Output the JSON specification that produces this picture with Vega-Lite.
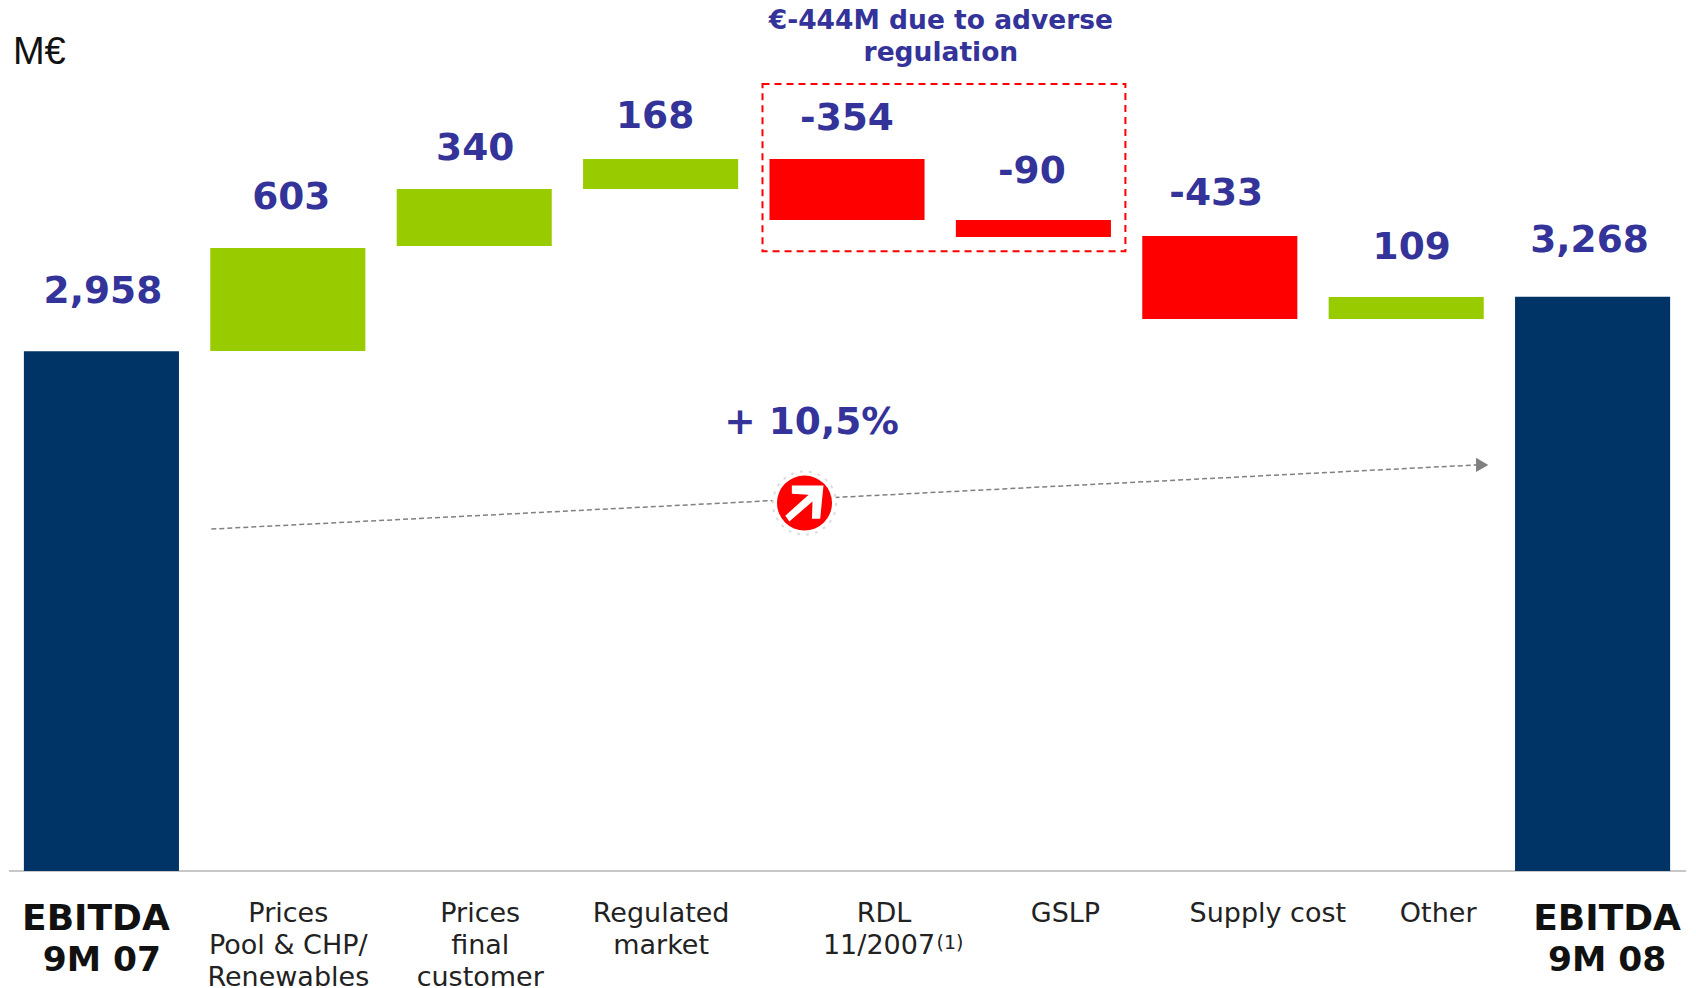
{
"$schema":"https://vega.github.io/schema/vega-lite/v6.json",
"autosize":{"type":"none"},
"width":1696,"height":988,"padding":0,
"background":"white",
"config":{"view":{"stroke":null}},
"datasets":{
"bars":[
{"category":"EBITDA 9M 07","type":"total","start":0,"end":2958,"label":"2,958"},
{"category":"Prices Pool","type":"increase","start":2960,"end":3546,"label":"603"},
{"category":"Prices final","type":"increase","start":3557,"end":3882,"label":"340"},
{"category":"Regulated","type":"increase","start":3882,"end":4052,"label":"168"},
{"category":"RDL","type":"decrease","start":4052,"end":3705,"label":"-354"},
{"category":"GSLP","type":"decrease","start":3705,"end":3608,"label":"-90"},
{"category":"Supply cost","type":"decrease","start":3614,"end":3142,"label":"-433"},
{"category":"Other","type":"increase","start":3142,"end":3267,"label":"109"},
{"category":"EBITDA 9M 08","type":"total","start":0,"end":3268,"label":"3,268"}
]},
"encoding":{"x":{"field":"category","type":"nominal","axis":null,"sort":null,
"scale":{"type":"band","domain":["EBITDA 9M 07","Prices Pool","Prices final","Regulated","RDL","GSLP","Supply cost","Other","EBITDA 9M 08"],"paddingInner":0.168,"paddingOuter":0.1335,"align":0.48}}},
"layer":[
{"data":{"values":[{"category":"EBITDA 9M 07","category2":"EBITDA 9M 08","level":0}]},
"mark":{"type":"rule","stroke":"#c8c8c8","strokeWidth":2,"xOffset":-92.5,"x2Offset":93.5},
"encoding":{"x2":{"field":"category2"},"y":{"field":"level","type":"quantitative","axis":null,"scale":{"domain":[-666,4957],"nice":false,"zero":false}}}},
{"data":{"name":"bars"},"mark":{"type":"bar"},
"encoding":{"y":{"field":"start","type":"quantitative"},"y2":{"field":"end"},
"color":{"field":"type","type":"nominal","legend":null,"scale":{"domain":["total","increase","decrease"],"range":["#003366","#99CC00","#FF0000"]}}}},
{"data":{"values":[{"category":"RDL","category2":"GSLP","low":3527,"high":4479}]},
"mark":{"type":"rect","fill":null,"stroke":"#FF0000","strokeWidth":2,"strokeDash":[7,5],"xOffset":-84.5,"x2Offset":92},
"encoding":{"x2":{"field":"category2"},"y":{"field":"low","type":"quantitative"},"y2":{"field":"high"}}},
{"data":{"values":[{"category":"Prices Pool","category2":"Other","from":1946,"to":2311}]},
"mark":{"type":"rule","stroke":"#808080","strokeWidth":1.5,"strokeDash":[5,3],"xOffset":-76.5,"x2Offset":71},
"encoding":{"x2":{"field":"category2"},"y":{"field":"from","type":"quantitative"},"y2":{"field":"to"}}},
{"data":{"values":[{"category":"Other","at":2311}]},
"mark":{"type":"point","shape":"triangle-right","filled":true,"fill":"#808080","stroke":null,"opacity":1,"size":200,"xOffset":76},
"encoding":{"y":{"field":"at","type":"quantitative"}}},
{"data":{"values":[{"category":"RDL","at":2094}]},
"mark":{"type":"point","shape":"circle","filled":true,"fill":"#ffffff","stroke":"#dddddd","strokeWidth":2,"strokeDash":[3,6],"opacity":1,"size":4000,"xOffset":-42.5},
"encoding":{"y":{"field":"at","type":"quantitative"}}},
{"data":{"values":[{"category":"RDL","at":2094}]},
"mark":{"type":"point","shape":"circle","filled":true,"fill":"#FF0000","stroke":null,"opacity":1,"size":3025,"xOffset":-42.5},
"encoding":{"y":{"field":"at","type":"quantitative"}}},
{"data":{"values":[{"category":"RDL","at":2094}]},
"mark":{"type":"point","shape":"M0.69,-0.64L0.57,0.57L0.27,0.57L0.29,-0.06L-0.55,0.67L-0.7,0.46L0.15,-0.3L-0.46,-0.34L-0.46,-0.64Z","filled":true,"fill":"#ffffff","stroke":null,"opacity":1,"size":3025,"xOffset":-42.5},
"encoding":{"y":{"field":"at","type":"quantitative"}}},
{"data":{"name":"bars"},"transform":[{"filter":"datum.label=='2,958'"}],"mark":{"type":"text","font":"DejaVu Sans","fontWeight":"bold","fontSize":37.5,"fill":"#333399","baseline":"middle","align":"center","dx":1.5,"dy":-59.5},"encoding":{"y":{"field":"end","type":"quantitative"},"text":{"field":"label"}}},
{"data":{"name":"bars"},"transform":[{"filter":"datum.label=='603'"}],"mark":{"type":"text","font":"DejaVu Sans","fontWeight":"bold","fontSize":37.5,"fill":"#333399","baseline":"middle","align":"center","dx":3.5,"dy":-50},"encoding":{"y":{"field":"end","type":"quantitative"},"text":{"field":"label"}}},
{"data":{"name":"bars"},"transform":[{"filter":"datum.label=='340'"}],"mark":{"type":"text","font":"DejaVu Sans","fontWeight":"bold","fontSize":37.5,"fill":"#333399","baseline":"middle","align":"center","dx":1,"dy":-40},"encoding":{"y":{"field":"end","type":"quantitative"},"text":{"field":"label"}}},
{"data":{"name":"bars"},"transform":[{"filter":"datum.label=='168'"}],"mark":{"type":"text","font":"DejaVu Sans","fontWeight":"bold","fontSize":37.5,"fill":"#333399","baseline":"middle","align":"center","dx":-5.5,"dy":-42},"encoding":{"y":{"field":"end","type":"quantitative"},"text":{"field":"label"}}},
{"data":{"name":"bars"},"transform":[{"filter":"datum.label=='-354'"}],"mark":{"type":"text","font":"DejaVu Sans","fontWeight":"bold","fontSize":37.5,"fill":"#333399","baseline":"middle","align":"center","dx":0,"dy":-40},"encoding":{"y":{"field":"start","type":"quantitative"},"text":{"field":"label"}}},
{"data":{"name":"bars"},"transform":[{"filter":"datum.label=='-90'"}],"mark":{"type":"text","font":"DejaVu Sans","fontWeight":"bold","fontSize":37.5,"fill":"#333399","baseline":"middle","align":"center","dx":-1.5,"dy":-48},"encoding":{"y":{"field":"start","type":"quantitative"},"text":{"field":"label"}}},
{"data":{"name":"bars"},"transform":[{"filter":"datum.label=='-433'"}],"mark":{"type":"text","font":"DejaVu Sans","fontWeight":"bold","fontSize":37.5,"fill":"#333399","baseline":"middle","align":"center","dx":-3.5,"dy":-41.5},"encoding":{"y":{"field":"start","type":"quantitative"},"text":{"field":"label"}}},
{"data":{"name":"bars"},"transform":[{"filter":"datum.label=='109'"}],"mark":{"type":"text","font":"DejaVu Sans","fontWeight":"bold","fontSize":37.5,"fill":"#333399","baseline":"middle","align":"center","dx":5.5,"dy":-49},"encoding":{"y":{"field":"end","type":"quantitative"},"text":{"field":"label"}}},
{"data":{"name":"bars"},"transform":[{"filter":"datum.label=='3,268'"}],"mark":{"type":"text","font":"DejaVu Sans","fontWeight":"bold","fontSize":37.5,"fill":"#333399","baseline":"middle","align":"center","dx":-3,"dy":-56},"encoding":{"y":{"field":"end","type":"quantitative"},"text":{"field":"label"}}},
{"data":{"values":[{"category":"GSLP","at":4792,"text":["€-444M due to adverse","regulation"]}]},
"mark":{"type":"text","font":"DejaVu Sans","fontWeight":"bold","fontSize":26.5,"fill":"#333399","baseline":"alphabetic","align":"center","dx":-92.5,"lineHeight":32},
"encoding":{"y":{"field":"at","type":"quantitative"},"text":{"field":"text"}}},
{"data":{"values":[{"category":"RDL","at":2550,"text":"+ 10,5%"}]},
"mark":{"type":"text","font":"DejaVu Sans","fontWeight":"bold","fontSize":37.5,"fill":"#333399","baseline":"middle","align":"center","dx":-35.5},
"encoding":{"y":{"field":"at","type":"quantitative"},"text":{"field":"text"}}},
{"data":{"values":[{"category":"EBITDA 9M 07","at":4593,"text":"M€"}]},
"mark":{"type":"text","font":"Liberation Sans","fontSize":38,"fill":"#111111","baseline":"alphabetic","align":"left","dx":-88.5},
"encoding":{"y":{"field":"at","type":"quantitative"},"text":{"field":"text"}}},
{"data":{"values":[{"category":"EBITDA 9M 07","at":-336,"text":"EBITDA"}]},
"mark":{"type":"text","font":"DejaVu Sans","fontWeight":"bold","fontSize":36,"fill":"#111111","baseline":"alphabetic","align":"center","dx":-5.5},
"encoding":{"y":{"field":"at","type":"quantitative"},"text":{"field":"text"}}},
{"data":{"values":[{"category":"EBITDA 9M 07","at":-569,"text":"9M 07"}]},
"mark":{"type":"text","font":"DejaVu Sans","fontWeight":"bold","fontSize":34.5,"fill":"#111111","baseline":"alphabetic","align":"center","dx":0.5},
"encoding":{"y":{"field":"at","type":"quantitative"},"text":{"field":"text"}}},
{"data":{"values":[{"category":"EBITDA 9M 08","at":-336,"text":"EBITDA"}]},
"mark":{"type":"text","font":"DejaVu Sans","fontWeight":"bold","fontSize":36,"fill":"#111111","baseline":"alphabetic","align":"center","dx":14.5},
"encoding":{"y":{"field":"at","type":"quantitative"},"text":{"field":"text"}}},
{"data":{"values":[{"category":"EBITDA 9M 08","at":-569,"text":"9M 08"}]},
"mark":{"type":"text","font":"DejaVu Sans","fontWeight":"bold","fontSize":34.5,"fill":"#111111","baseline":"alphabetic","align":"center","dx":14.5},
"encoding":{"y":{"field":"at","type":"quantitative"},"text":{"field":"text"}}},
{"data":{"values":[{"category":"Prices Pool","at":-290,"text":["Prices","Pool & CHP/","Renewables"]},{"category":"Regulated","at":-290,"text":["Regulated","market"]}]},
"mark":{"type":"text","font":"DejaVu Sans","fontSize":27,"fill":"#222222","baseline":"alphabetic","align":"center","dx":0.5,"lineHeight":32},
"encoding":{"y":{"field":"at","type":"quantitative"},"text":{"field":"text"}}},
{"data":{"values":[{"category":"Prices final","at":-290,"text":["Prices","final","customer"]}]},
"mark":{"type":"text","font":"DejaVu Sans","fontWeight":"normal","fontSize":27,"fill":"#222222","baseline":"alphabetic","align":"center","dx":6,"lineHeight":32},
"encoding":{"y":{"field":"at","type":"quantitative"},"text":{"field":"text"}}},
{"data":{"values":[{"category":"RDL","at":-290,"text":"RDL"}]},
"mark":{"type":"text","font":"DejaVu Sans","fontSize":27,"fill":"#222222","baseline":"alphabetic","align":"center","dx":37},
"encoding":{"y":{"field":"at","type":"quantitative"},"text":{"field":"text"}}},
{"data":{"values":[{"category":"RDL","at":-472,"text":"11/2007"}]},
"mark":{"type":"text","font":"DejaVu Sans","fontSize":27,"fill":"#222222","baseline":"alphabetic","align":"center","dx":32},
"encoding":{"y":{"field":"at","type":"quantitative"},"text":{"field":"text"}}},
{"data":{"values":[{"category":"GSLP","at":-290,"text":"GSLP"},{"category":"Other","at":-290,"text":"Other"}]},
"mark":{"type":"text","font":"DejaVu Sans","fontSize":27,"fill":"#222222","baseline":"alphabetic","align":"center","dx":32},
"encoding":{"y":{"field":"at","type":"quantitative"},"text":{"field":"text"}}},
{"data":{"values":[{"category":"Supply cost","at":-290,"text":"Supply cost"}]},
"mark":{"type":"text","font":"DejaVu Sans","fontWeight":"normal","fontSize":27,"fill":"#222222","baseline":"alphabetic","align":"center","dx":48},
"encoding":{"y":{"field":"at","type":"quantitative"},"text":{"field":"text"}}},
{"data":{"values":[{"category":"RDL","at":-444,"text":"(1)"}]},
"mark":{"type":"text","font":"DejaVu Sans","fontSize":19,"fill":"#222222","baseline":"alphabetic","align":"left","dx":89.5},
"encoding":{"y":{"field":"at","type":"quantitative"},"text":{"field":"text"}}}
]
}
